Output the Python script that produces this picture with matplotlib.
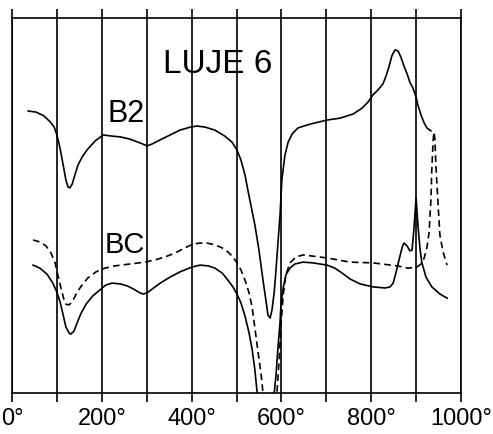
import matplotlib
matplotlib.use("Agg")
import matplotlib.pyplot as plt

# temperature (deg C) / signal (arbitrary units, 0..100 chart height)
b2_temp = [36, 54, 71, 85, 94, 100, 107, 114, 120, 125,
           129, 134, 140, 147, 156, 167, 185, 203, 223, 241,
           263, 285, 301, 312, 330, 352, 374, 397, 412, 430,
           452, 474, 490, 501, 510, 519, 526, 532, 541, 550,
           559, 566, 570, 575, 579, 584, 588, 592, 597, 601,
           608, 615, 624, 637, 664, 702, 731, 760, 780, 793,
           804, 815, 826, 833, 840, 846, 853, 860, 866, 873,
           880, 886, 893, 900, 904, 911, 918, 924, 933]
b2_val = [75.2, 74.9, 73.9, 72.3, 70.9, 68.8, 65.3, 60.8, 56.8, 54.9,
          54.7, 55.7, 58.1, 60.8, 62.9, 64.8, 67.2, 68.8, 68.5, 68.3,
          67.7, 66.7, 65.9, 66.4, 67.5, 68.8, 70.1, 70.9, 71.2, 70.9,
          70.1, 68.5, 66.9, 64.8, 62.1, 58.1, 53.7, 50.1, 44.8, 38.1,
          30.1, 24.3, 20.8, 20, 22.1, 26.9, 32.8, 39.5, 47.5, 56.8,
          63.5, 66.9, 69.1, 70.7, 71.7, 72.8, 73.3, 74.4, 76, 77.6,
          79.5, 80.8, 82.4, 84.5, 87.2, 89.9, 91.5, 91.2, 89.6, 87.2,
          85.1, 82.9, 81.3, 78.9, 76.8, 74.1, 72, 70.7, 69.9]

bc_temp = [47, 62, 78, 91, 100, 107, 114, 120, 127, 131,
           138, 145, 154, 165, 180, 196, 209, 223, 241, 258,
           274, 285, 292, 301, 312, 330, 352, 374, 401, 419,
           437, 452, 468, 481, 492, 501, 510, 519, 528, 535,
           541, 546, 564, 584, 588, 592, 597, 599, 604, 610,
           619, 630, 648, 670, 702, 719, 735, 753, 775, 804,
           831, 842, 849, 855, 862, 869, 873, 880, 886, 891,
           895, 900, 904, 909, 913, 922, 935, 953, 969]
bc_val = [34.1, 33.3, 31.7, 29.3, 26.9, 24.3, 20.8, 17.6, 16, 15.7,
          16.5, 18.7, 21.3, 23.7, 25.9, 27.5, 28.8, 29.3, 29.1, 28.5,
          27.5, 26.7, 26.4, 26.7, 27.7, 29.3, 30.9, 32.3, 33.6, 34.1,
          33.9, 33.3, 32, 30.1, 28.3, 26.4, 24, 20.5, 16, 11.5,
          6.1, 0, -33.9, 0, 4.8, 11.5, 18.9, 23.5, 28, 31.5,
          33.3, 34.4, 34.9, 34.7, 34.1, 33.3, 32, 30.4, 29.1, 28.3,
          28, 28.3, 29.3, 32, 35.5, 38.9, 40, 39.2, 37.9, 38.1,
          43.5, 52, 44.8, 38.1, 34.7, 30.9, 28.3, 26.4, 25.3]

bc_dash_temp = [47, 62, 76, 87, 96, 102, 109, 116, 120, 127,
                134, 143, 154, 169, 187, 207, 229, 263, 296, 319,
                341, 363, 385, 403, 419, 434, 452, 468, 481, 492,
                501, 510, 519, 528, 535, 541, 548, 555, 559, 575,
                590, 595, 599, 604, 610, 619, 633, 648, 670, 702,
                753, 804, 858, 882, 902, 911, 918, 924, 929, 933,
                935, 938, 940, 942, 944, 949, 953, 960, 969]
bc_dash_val = [40.8, 40.3, 39.2, 37.3, 34.7, 31.5, 28, 24.8, 23.7, 23.5,
               24.3, 26.4, 28.5, 30.7, 32.3, 33.3, 33.9, 34.4, 34.9, 35.5,
               36.3, 37.3, 38.7, 39.7, 40, 40, 39.5, 38.7, 37.6, 36.3,
               34.7, 32.8, 30.1, 26.7, 22.7, 17.3, 10.9, 4.8, 0, -28.5,
               0, 8.8, 18.1, 26.1, 31.5, 34.7, 36.3, 36.8, 36.5, 36,
               34.9, 34.7, 33.9, 33.3, 33.6, 34.4, 36, 38.7, 42.9, 51.5,
               59.5, 67.5, 69.6, 67.5, 60.8, 50.1, 42.1, 37.6, 34.1]

major_ticks = [0, 200, 400, 600, 800, 1000]
major_labels = ["0°", "200°", "400°", "600°", "800°", "1000°"]
minor_ticks = [100, 300, 500, 700, 900]

W, H = 493, 434
fig = plt.figure(figsize=(W / 100, H / 100), dpi=100)
ax = fig.add_axes([12 / W, (H - 393) / H, (461 - 12) / W, (393 - 18) / H])

lw = 1.2
ax.plot(b2_temp, b2_val, color="black", lw=lw)
ax.plot(bc_temp, bc_val, color="black", lw=lw)
ax.plot(bc_dash_temp, bc_dash_val, color="black", lw=lw, ls=(0, (4, 2.5)))

ax.set_xlim(0, 1000)
ax.set_ylim(0, 100)

ax.set_xticks(major_ticks)
ax.set_xticklabels(major_labels, family="Liberation Sans", fontsize=17)
ax.set_xticks(minor_ticks, minor=True)
ax.set_yticks([])
ax.tick_params(axis="x", which="both", direction="out", length=6.5, width=1.2,
               top=True, pad=4)
ax.grid(True, axis="x", which="both", color="black", lw=1.2)
for s in ax.spines.values():
    s.set_linewidth(1.2)

ax.text(336, 85.3, "LUJE 6", family="Liberation Sans", fontsize=24, va="baseline")
ax.text(212, 72.3, "B2", family="Liberation Sans", fontsize=22, va="baseline")
ax.text(207, 37.3, "BC", family="Liberation Sans", fontsize=21, va="baseline")

fig.savefig("out.png", dpi=100)
